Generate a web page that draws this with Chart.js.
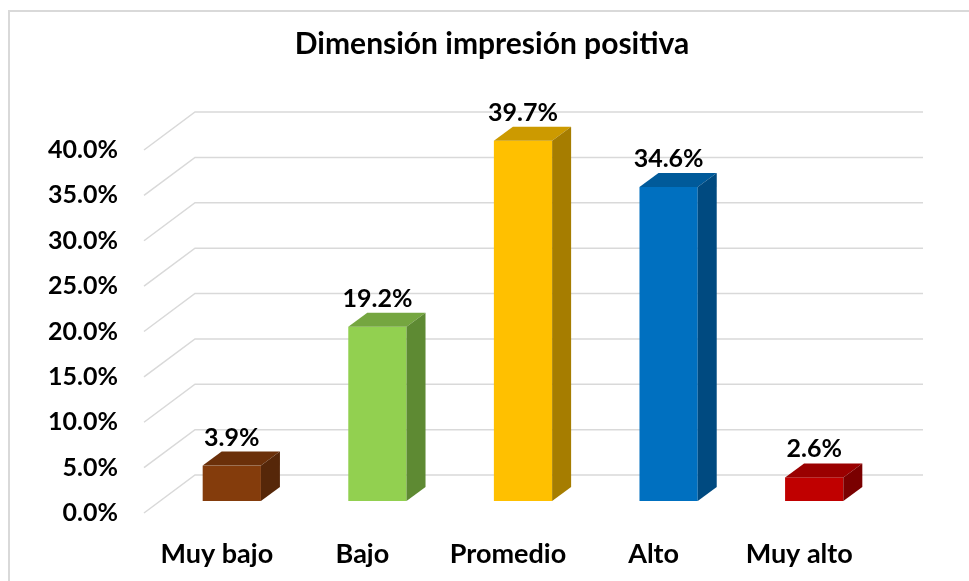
<!DOCTYPE html>
<html>
<head>
<meta charset="utf-8">
<script src="https://cdn.jsdelivr.net/npm/chart.js@4.4.0/dist/chart.umd.min.js"></script>
<style>
  html, body { margin: 0; padding: 0; background: #fff; }
  #wrap { width: 969px; height: 581px; }
</style>
</head>
<body>
<div id="wrap"><canvas id="bar-chart"></canvas></div>
<script>
var chartTitle = 'Dimensión impresión positiva'
var categories = ['Muy bajo', 'Bajo', 'Promedio', 'Alto', 'Muy alto']
var values = [3.9, 19.2, 39.7, 34.6, 2.6]
var frontColors = ['#843c0c', '#92d050', '#ffc000', '#0070c0', '#c00000']
var topColors = ['#6b300a', '#75a640', '#cc9a00', '#005a9a', '#9a0000']
var sideColors = ['#562709', '#5e8a33', '#a67d00', '#004a80', '#7a0000']
var yMin = 0, yMax = 40, yStep = 5

var FONT = 'Lato'
// perspective offsets (floor depth, bar shift, bar depth)
var WALL_DX = 51, WALL_DY = 38
var BAR_OX = 15, BAR_OY = 12
var BAR_DX = 19, BAR_DY = 14

var pct = function (v) { return v.toFixed(1) + '%' }

var frame3d = {
    id: 'frame3d',
    beforeDraw: function (chart) {
        var ctx = chart.ctx
        ctx.save()
        ctx.fillStyle = '#fff'
        ctx.fillRect(0, 0, chart.width, chart.height)
        ctx.strokeStyle = '#d9d9d9'
        ctx.lineWidth = 2
        ctx.beginPath()
        ctx.moveTo(9, chart.height + 5)
        ctx.lineTo(9, 11)
        ctx.lineTo(chart.width + 5, 11)
        ctx.stroke()
        // title, centred over the plot like the original
        ctx.fillStyle = '#000'
        ctx.font = 'bold 30px ' + FONT
        ctx.textAlign = 'center'
        ctx.textBaseline = 'alphabetic'
        ctx.fillText(chartTitle, 492, 54)
        ctx.restore()
    },
    beforeDatasetsDraw: function (chart) {
        var ctx = chart.ctx, area = chart.chartArea, ys = chart.scales.y
        ctx.save()
        ctx.strokeStyle = '#d9d9d9'
        ctx.lineWidth = 1.5
        ys.ticks.forEach(function (t) {
            var y = ys.getPixelForValue(t.value)
            ctx.beginPath()
            ctx.moveTo(area.left, y)
            ctx.lineTo(area.left + WALL_DX, y - WALL_DY)
            ctx.lineTo(area.right + WALL_DX, y - WALL_DY)
            ctx.stroke()
        })
        ctx.restore()
    },
    afterDatasetsDraw: function (chart) {
        var ctx = chart.ctx
        var meta = chart.getDatasetMeta(0)
        ctx.save()
        meta.data.forEach(function (bar, i) {
            var w = bar.width
            var x0 = bar.x - w / 2 + BAR_OX, x1 = x0 + w
            var yt = bar.y - BAR_OY, yb = bar.base - BAR_OY
            ctx.fillStyle = frontColors[i]
            ctx.fillRect(x0, yt, w, yb - yt)
            ctx.fillStyle = topColors[i]
            ctx.beginPath()
            ctx.moveTo(x0, yt)
            ctx.lineTo(x0 + BAR_DX, yt - BAR_DY)
            ctx.lineTo(x1 + BAR_DX, yt - BAR_DY)
            ctx.lineTo(x1, yt)
            ctx.closePath()
            ctx.fill()
            ctx.fillStyle = sideColors[i]
            ctx.beginPath()
            ctx.moveTo(x1, yt)
            ctx.lineTo(x1 + BAR_DX, yt - BAR_DY)
            ctx.lineTo(x1 + BAR_DX, yb - BAR_DY)
            ctx.lineTo(x1, yb)
            ctx.closePath()
            ctx.fill()
            // value label
            ctx.fillStyle = '#000'
            ctx.font = 'bold 25px ' + FONT
            ctx.textAlign = 'center'
            ctx.textBaseline = 'alphabetic'
            ctx.fillText(pct(values[i]), (x0 + x1) / 2, yt - 20)
        })
        ctx.restore()
    }
}

var barChart = new Chart(document.getElementById('bar-chart'), {
    type: 'bar',
    data: {
        labels: categories,
        datasets: [{
            label: chartTitle,
            data: values,
            backgroundColor: 'rgba(0,0,0,0)',
            borderWidth: 0,
            barPercentage: 0.4,
            categoryPercentage: 1
        }]
    },
    options: {
        responsive: true,
        maintainAspectRatio: false,
        animation: false,
        layout: { padding: { top: 150, left: 0, right: 97, bottom: 12 } },
        plugins: {
            legend: { display: false },
            tooltip: { enabled: false },
            title: { display: false }
        },
        scales: {
            x: {
                afterFit: function (scale) { scale.height = 56 },
                grid: { display: false, drawTicks: false },
                border: { display: false },
                ticks: {
                    color: '#000',
                    padding: 25,
                    maxRotation: 0,
                    font: { family: FONT, size: 27, weight: 'bold' }
                }
            },
            y: {
                min: yMin,
                max: yMax,
                afterFit: function (scale) { scale.width = 144 },
                grid: { display: false, drawTicks: false },
                border: { display: false },
                ticks: {
                    stepSize: yStep,
                    color: '#000',
                    padding: 26,
                    font: { family: FONT, size: 25, weight: 'bold' },
                    callback: function (v) { return pct(v) }
                }
            }
        }
    },
    plugins: [frame3d]
});
</script>
</body>
</html>
